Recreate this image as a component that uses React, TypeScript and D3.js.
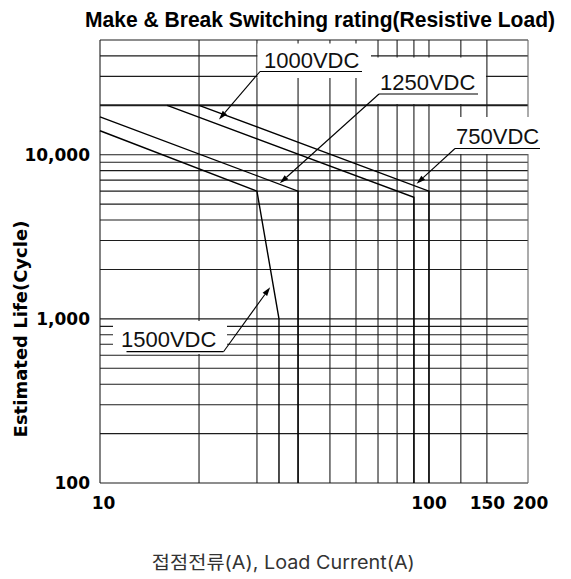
import React from 'react';
import * as d3 from 'd3';

const W = 571;
const H = 579;

// load current (A) – vertical grid and tick labels
const currentGrid = [10, 20, 30, 40, 50, 60, 70, 80, 90, 100, 125, 150, 200];
const currentTicks = [10, 100, 150, 200];
const currentTickLabels = ['10', '100', '150', '200'];

// estimated life (cycles) – horizontal grid and tick labels
const lifeGrid = [
  100, 200, 300, 400, 500, 600, 700, 800, 900,
  1000, 2000, 3000, 4000, 5000, 6000, 7000, 8000, 9000,
  10000, 20000, 30000, 40000, 50000,
];
const lifeTicks = [100, 1000, 10000];
const lifeTickLabels = ['100', '1,000', '10,000'];

// curves
const seriesNames = ['750VDC', '1000VDC', '1250VDC', '1500VDC'];
const current750 = [20, 100, 100];
const life750 = [20000, 6000, 100];
const current1000 = [16, 90, 90];
const life1000 = [20000, 5500, 100];
const current1250 = [10, 40, 40];
const life1250 = [17000, 6000, 100];
const current1500 = [10, 30, 35, 35];
const life1500 = [14000, 6000, 1000, 100];

// where each label's arrow points (data units)
const arrowCurrent = [91.7, 23, 35.2, 32.9];
const arrowLife = [6650, 16400, 6700, 1560];

// label placement (pixels)
const labelLayout = [
  { tx: 456, ty: 144, ux0: 455, ux1: 540, uy: 148.5, lx: 455, box: [446, 117, 99, 37] },
  { tx: 264, ty: 68, ux0: 260, ux1: 362, uy: 71.5, lx: 260, box: [257.5, 43.5, 113.5, 34.5] },
  { tx: 380, ty: 89.5, ux0: 379, ux1: 478, uy: 94, lx: 379, box: [371, 57.5, 115, 46.5] },
  { tx: 121, ty: 347, ux0: 126.5, ux1: 223.5, uy: 351.7, lx: 223.5, box: [113, 321, 114, 33] },
];
const xTickDx = [3.5, 0, 0.5, 2.5];

const left = 100, right = 528, top = 40, bottom = 483;

export default function App() {
  const x = d3.scaleLog().domain([10, 200]).range([left, right]);
  const y = d3.scaleLog().domain([100, 50000]).range([bottom, top]);

  const line = d3.line<[number, number]>().x(d => x(d[0])).y(d => y(d[1]));
  const series = [
    d3.zip(current750, life750),
    d3.zip(current1000, life1000),
    d3.zip(current1250, life1250),
    d3.zip(current1500, life1500),
  ] as [number, number][][];

  const grid = '#1c1c1c';

  return (
    <svg width={W} height={H} style={{ position: 'absolute', left: 0, top: 0, background: '#fff' }}>
      <rect width={W} height={H} fill="#fff" />
      <text x={85} y={27} fontFamily="'Liberation Sans Narrow', 'Arial Narrow', 'Liberation Sans', sans-serif"
        fontWeight="bold" fontSize={22.5} textLength={470} lengthAdjust="spacingAndGlyphs" fill="#000">
        Make &amp; Break Switching rating(Resistive Load)
      </text>

      {/* grid */}
      {lifeGrid.map(v => (
        <line key={'h' + v} x1={left} x2={right} y1={y(v)} y2={y(v)} stroke={grid}
          strokeWidth={v === 20000 ? 1.9 : 1.1} />
      ))}
      {currentGrid.map(v => (
        <line key={'v' + v} x1={x(v)} x2={x(v)} y1={top} y2={bottom}
          stroke={v === 200 ? '#666' : grid} strokeWidth={1.1} />
      ))}

      {/* label boxes break the grid */}
      {labelLayout.map((l, i) => (
        <rect key={'b' + i} x={l.box[0]} y={l.box[1]} width={l.box[2]} height={l.box[3]} fill="#fff" />
      ))}

      {/* curves */}
      {series.map((s, i) => (
        <path key={'s' + i} d={line(s) || ''} fill="none" stroke="#000" strokeWidth={1.4} />
      ))}

      {/* labels with leaders */}
      {labelLayout.map((l, i) => {
        const tx = x(arrowCurrent[i]);
        const ty = y(arrowLife[i]);
        const a = Math.atan2(ty - l.uy, tx - l.lx);
        const len = 9, hw = 2.8;
        const bx = tx - len * Math.cos(a), by = ty - len * Math.sin(a);
        const p1 = [bx + hw * Math.sin(a), by - hw * Math.cos(a)];
        const p2 = [bx - hw * Math.sin(a), by + hw * Math.cos(a)];
        return (
          <g key={'l' + i}>
            <line x1={l.ux0} x2={l.ux1} y1={l.uy} y2={l.uy} stroke="#000" strokeWidth={1.2} />
            <line x1={l.lx} y1={l.uy} x2={bx} y2={by} stroke="#000" strokeWidth={1.1} />
            <polygon points={`${tx},${ty} ${p1[0]},${p1[1]} ${p2[0]},${p2[1]}`} fill="#000" />
            <text x={l.tx} y={l.ty} fontFamily="'Liberation Sans', Arial, sans-serif" fontSize={22} fill="#111">
              {seriesNames[i]}
            </text>
          </g>
        );
      })}

      {/* tick labels */}
      {lifeTicks.map((v, i) => (
        <text key={'yt' + v} x={90} y={y(v)} dy="0.36em" textAnchor="end"
          fontFamily="'DejaVu Sans', sans-serif" fontWeight="bold" fontSize={17} fill="#000">
          {lifeTickLabels[i]}
        </text>
      ))}
      {currentTicks.map((v, i) => (
        <text key={'xt' + v} x={x(v) + xTickDx[i]} y={509} textAnchor="middle"
          fontFamily="'DejaVu Sans', sans-serif" fontWeight="bold" fontSize={17} fill="#000">
          {currentTickLabels[i]}
        </text>
      ))}

      <text transform="translate(26.7,329) rotate(-90)" textAnchor="middle"
        fontFamily="'DejaVu Sans', sans-serif" fontWeight="bold" fontSize={18} fill="#000">
        Estimated Life(Cycle)
      </text>
      <text x={283.3} y={568.5} textAnchor="middle" textLength={263} lengthAdjust="spacingAndGlyphs"
        fontFamily="Inter, 'Noto Sans CJK KR', sans-serif" fontSize={18.5} fill="#333">
        접점전류(A), Load Current(A)
      </text>
    </svg>
  );
}
